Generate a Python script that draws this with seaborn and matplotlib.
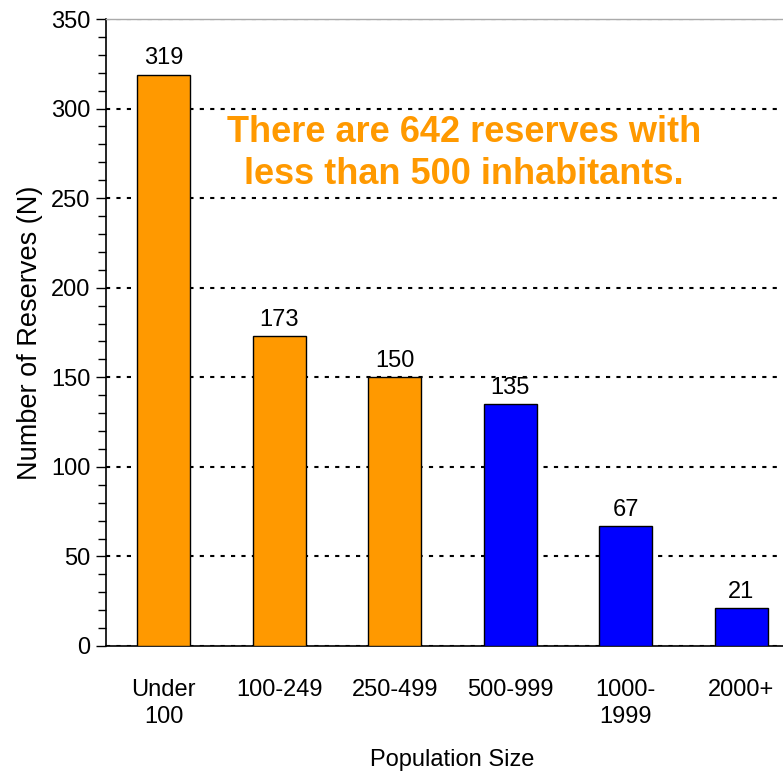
import matplotlib
matplotlib.use("Agg")
import matplotlib.pyplot as plt
from matplotlib.ticker import MultipleLocator
import seaborn as sns
import pandas as pd

categories = ["Under\n100", "100-249", "250-499", "500-999", "1000-\n1999", "2000+"]
reserves = [319, 173, 150, 135, 67, 21]
bar_colors = ["#FF9900", "#FF9900", "#FF9900", "#0000FF", "#0000FF", "#0000FF"]
y_ticks = [0, 50, 100, 150, 200, 250, 300, 350]

sns.set_theme(style="white")
plt.rcParams["font.family"] = ["Liberation Sans", "DejaVu Sans"]

df = pd.DataFrame({"size": categories, "n": reserves})

fig = plt.figure(figsize=(7.83, 7.72), dpi=100)
ax = fig.add_axes([106 / 783, 126 / 772, 693 / 783, 627 / 772])

sns.barplot(data=df, x="size", y="n", hue="size", palette=bar_colors,
            legend=False, width=0.46, edgecolor="black", linewidth=1.0,
            saturation=1, ax=ax, zorder=3)

ax.set_xlim(-0.5, 5.5)
ax.set_ylim(0, 350)
ax.set_yticks(y_ticks)
ax.yaxis.set_minor_locator(MultipleLocator(10))
ax.grid(axis="y", color="black", linestyle=(0, (2, 3)), linewidth=1.5, zorder=0)
ax.set_axisbelow(True)

for side in ["left", "bottom"]:
    ax.spines[side].set_color("black")
    ax.spines[side].set_linewidth(1.2)
ax.spines["top"].set_color("#aaaaaa")
ax.spines["top"].set_linewidth(1.0)
ax.spines["right"].set_visible(False)

ax.tick_params(axis="y", which="major", direction="out", length=7, width=1,
               color="black", left=True, labelsize=17, pad=4, labelcolor="black")
ax.tick_params(axis="y", which="minor", direction="out", length=6, width=1,
               color="black", left=True)
ax.tick_params(axis="x", length=0, labelsize=17, pad=24, labelcolor="black")
for lbl in ax.get_xticklabels():
    lbl.set_linespacing(1.3)

ax.set_xlabel("Population Size", fontsize=17, labelpad=15, color="black")
ax.set_ylabel("Number of Reserves (N)", fontsize=19.5, labelpad=6, color="black")

for i, v in enumerate(reserves):
    ax.text(i, v + 3, str(v), ha="center", va="bottom", fontsize=17, color="black")

ax.text(2.6, 275, "There are 642 reserves with\nless than 500 inhabitants.",
        ha="center", va="center", fontsize=26, fontweight="bold",
        color="#FF9900", linespacing=1.25)

fig.savefig("out.png", dpi=100)
